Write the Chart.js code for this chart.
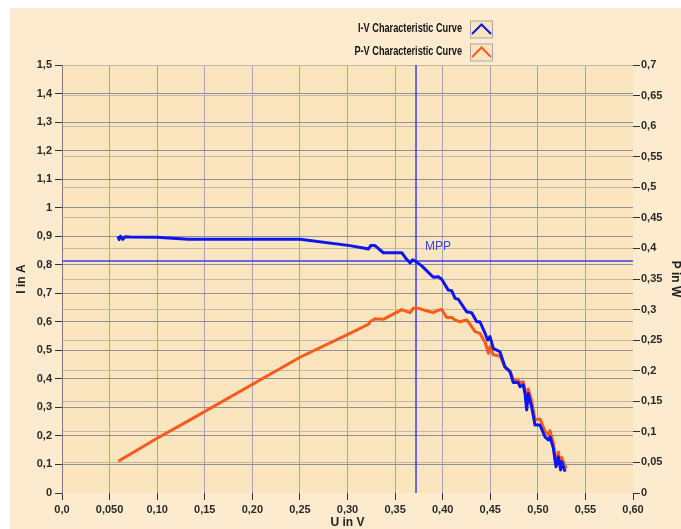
<!DOCTYPE html>
<html><head><meta charset="utf-8">
<script src="https://cdn.jsdelivr.net/npm/chart.js@4/dist/chart.umd.min.js"></script>
<style>html,body{margin:0;padding:0;background:#fff;overflow:hidden}#wrap{position:relative;width:681px;height:529px}</style>
</head><body><div id="wrap"><canvas id="c" width="681" height="529"></canvas></div>
<script>
const ivVoltage = [0.0588,0.0600,0.0615,0.0640,0.0660,0.0715,0.0995,0.1327,0.2501,0.3026,0.3194,0.3220,0.3244,0.3289,0.3376,0.3570,0.3622,0.3657,0.3685,0.3720,0.3780,0.3902,0.3954,0.3990,0.4059,0.4095,0.4130,0.4164,0.4253,0.4305,0.4358,0.4392,0.4445,0.4473,0.4497,0.4532,0.4602,0.4655,0.4708,0.4742,0.4795,0.4813,0.4847,0.4865,0.4883,0.4900,0.4935,0.4970,0.5023,0.5075,0.5110,0.5128,0.5163,0.5191,0.5215,0.5240,0.5251,0.5286];
const ivCurrent = [0.900,0.888,0.900,0.889,0.898,0.897,0.896,0.889,0.889,0.867,0.857,0.855,0.867,0.867,0.842,0.842,0.819,0.807,0.817,0.811,0.796,0.756,0.758,0.749,0.711,0.709,0.682,0.679,0.635,0.632,0.600,0.600,0.560,0.536,0.548,0.507,0.495,0.441,0.425,0.387,0.387,0.373,0.379,0.349,0.291,0.349,0.302,0.238,0.238,0.197,0.186,0.197,0.157,0.092,0.127,0.081,0.110,0.075];
const pvVoltage = [0.0592,0.0995,0.1327,0.2501,0.3026,0.3220,0.3244,0.3289,0.3376,0.3450,0.3570,0.3620,0.3657,0.3690,0.3744,0.3830,0.3900,0.3954,0.3990,0.4042,0.4095,0.4130,0.4180,0.4253,0.4305,0.4340,0.4392,0.4445,0.4480,0.4497,0.4532,0.4602,0.4655,0.4708,0.4742,0.4795,0.4813,0.4847,0.4865,0.4883,0.4900,0.4935,0.4970,0.5023,0.5075,0.5110,0.5128,0.5163,0.5191,0.5215,0.5240,0.5251,0.5296];
const pvPower = [0.052,0.089,0.118,0.222,0.261,0.276,0.281,0.285,0.284,0.290,0.300,0.297,0.295,0.302,0.302,0.298,0.295,0.299,0.300,0.287,0.287,0.283,0.280,0.283,0.272,0.264,0.261,0.247,0.2285,0.239,0.226,0.224,0.2066,0.1995,0.186,0.184,0.180,0.182,0.170,0.145,0.170,0.151,0.120,0.121,0.101,0.096,0.102,0.082,0.048,0.067,0.043,0.058,0.040];
const mppVoltage = 0.372;
const mppCurrent = 0.813;
const xTickLabels = ['0,0','0,050','0,10','0,15','0,20','0,25','0,30','0,35','0,40','0,45','0,50','0,55','0,60'];
const leftTickLabels = ['0','0,1','0,2','0,3','0,4','0,5','0,6','0,7','0,8','0,9','1','1,1','1,2','1,3','1,4','1,5'];
const rightTickLabels = ['0','0,05','0,1','0,15','0,2','0,25','0,3','0,35','0,4','0,45','0,5','0,55','0,6','0,65','0,7'];
const seriesLabels = ['I-V Characteristic Curve','P-V Characteristic Curve'];
const axisTitles = {x:'U in V', y:'I in A', y2:'P in W'};
const mppLabel = 'MPP';

const BLUE = '#0b16f2', ORANGE = '#ff5a1e', MPPBLUE = '#3a42f0';
const tickFont = {family:'"Liberation Sans", Arial, sans-serif', size:11, weight:'bold'};
const titleFont = {family:'"Liberation Sans", Arial, sans-serif', size:12, weight:'bold', lineHeight:1};

const bgPlugin = {
  id:'bg',
  beforeDraw(chart){
    const c = chart.ctx, a = chart.chartArea;
    c.save();
    c.fillStyle = '#ffffff'; c.fillRect(0,0,chart.width,chart.height);
    c.fillStyle = '#fdebd0'; c.fillRect(10,8,chart.width-10,chart.height-8);
    c.fillStyle = '#fbe5be'; c.fillRect(a.left,a.top,a.right-a.left,a.bottom-a.top);
    c.restore();
  },
  afterDraw(chart){
    const c = chart.ctx;
    const xs = chart.scales.x, ys = chart.scales.y;
    c.save();
    c.fillStyle = MPPBLUE;
    c.font = '12px "Liberation Sans", Arial, sans-serif';
    c.textBaseline = 'alphabetic'; c.textAlign = 'left';
    c.fillText(mppLabel, xs.getPixelForValue(mppVoltage)+9, ys.getPixelForValue(mppCurrent)-11);
    // legend
    const items = chart.data.datasets.filter(d => seriesLabels.includes(d.label));
    c.font = 'bold 12px "Liberation Sans", Arial, sans-serif';
    const w0 = c.measureText(seriesLabels[0]).width;
    const sx = 104 / w0;
    items.forEach((d,i) => {
      const cy = 29 + i*23;
      c.save();
      c.translate(462, cy);
      c.scale(sx,1);
      c.fillStyle = '#151515';
      c.textAlign = 'right'; c.textBaseline = 'middle';
      c.fillText(d.label, 0, 0);
      c.restore();
      const bx = 470, by = cy - 8.5;
      c.fillStyle = '#fbe5be';
      c.fillRect(bx, by, 22, 17);
      c.strokeStyle = '#a8a8a8'; c.lineWidth = 1;
      c.strokeRect(bx+0.5, by+0.5, 22, 17);
      c.strokeStyle = d.borderColor; c.lineWidth = 2;
      c.beginPath();
      c.moveTo(bx+2, by+13.5); c.lineTo(bx+11.5, by+4); c.lineTo(bx+21, by+13.5);
      c.stroke();
    });
    c.restore();
  }
};

const pts = (xs, ys) => xs.map((v,i) => ({x:v, y:ys[i]}));

new Chart(document.getElementById('c'), {
  type:'line',
  data:{ datasets:[
    {label:seriesLabels[0], data:pts(ivVoltage, ivCurrent), yAxisID:'y', borderColor:BLUE, borderWidth:3, pointRadius:0, order:0, borderJoinStyle:'round'},
    {label:seriesLabels[1], data:pts(pvVoltage, pvPower), yAxisID:'y2', borderColor:ORANGE, borderWidth:3, pointRadius:0, order:1, borderJoinStyle:'round'},
    {label:'mppV', data:[{x:mppVoltage,y:0},{x:mppVoltage,y:1.5}], yAxisID:'y', borderColor:MPPBLUE, borderWidth:1.5, pointRadius:0, order:2},
    {label:'mppI', data:[{x:0,y:mppCurrent},{x:0.6,y:mppCurrent}], yAxisID:'y', borderColor:MPPBLUE, borderWidth:1.5, pointRadius:0, order:2}
  ]},
  options:{
    responsive:false, animation:false, devicePixelRatio:1,
    layout:{padding:{left:12, top:65, right:0, bottom:0}},
    plugins:{legend:{display:false}, tooltip:{enabled:false}},
    scales:{
      x:{type:'linear', position:'bottom', min:0, max:0.6,
        ticks:{stepSize:0.05, font:tickFont, color:'#2a2a2a', padding:3, maxRotation:0, autoSkip:false,
          callback:v => xTickLabels[Math.round(v/0.05)]},
        grid:{color:c => (c.tick && Math.abs(c.tick.value-0.6)<1e-6) ? 'rgba(0,0,0,0)' : '#a6a6a6', tickColor:'#333', tickLength:7, lineWidth:1},
        border:{display:false},
        title:{display:true, text:axisTitles.x, font:titleFont, color:'#222', padding:{top:0,bottom:0}},
        afterFit:s => { s.height = 36; }
      },
      y:{type:'linear', position:'left', min:0, max:1.5,
        ticks:{stepSize:0.1, font:tickFont, color:'#2a2a2a', padding:3, autoSkip:false,
          callback:v => leftTickLabels[Math.round(v/0.1)]},
        grid:{color:c => (c.tick && Math.abs(c.tick.value)<1e-6) ? 'rgba(0,0,0,0)' : '#919298', tickColor:'#333', tickLength:7},
        border:{display:true, color:'#7a7a7a', width:1},
        title:{display:true, text:axisTitles.y, font:titleFont, color:'#222', padding:{top:4,bottom:0}},
        afterFit:s => { s.width = 50; }
      },
      y2:{type:'linear', position:'right', min:0, max:0.7,
        ticks:{stepSize:0.05, font:tickFont, color:'#2a2a2a', padding:1, autoSkip:false,
          callback:v => rightTickLabels[Math.round(v/0.05)]},
        grid:{color:c => (c.tick && Math.abs(c.tick.value)<1e-6) ? 'rgba(0,0,0,0)' : '#c2b9a8', tickColor:'#333', tickLength:7},
        border:{display:false},
        title:{display:true, text:axisTitles.y2, font:titleFont, color:'#222', padding:{top:0,bottom:0}},
        afterFit:s => { s.width = 48; }
      }
    }
  },
  plugins:[bgPlugin]
});
</script></body></html>
